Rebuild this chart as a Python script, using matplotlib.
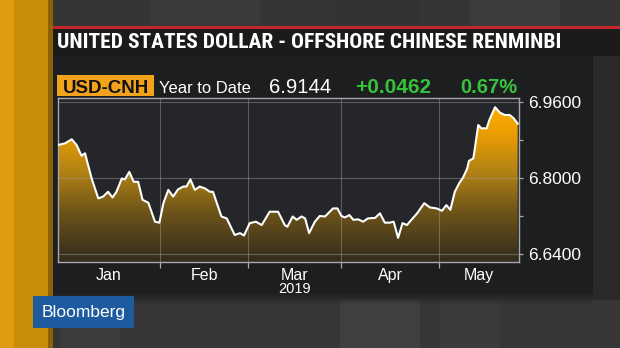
import matplotlib
matplotlib.use("Agg")
import matplotlib.pyplot as plt
import numpy as np
from matplotlib import font_manager as fm
from matplotlib import transforms
from matplotlib.colors import LinearSegmentedColormap
from matplotlib.patches import Rectangle, Polygon

# ---------------- data ----------------
title = "UNITED STATES DOLLAR - OFFSHORE CHINESE RENMINBI"
ticker = "USD-CNH"
period = "Year to Date"
last_value = "6.9144"
net_change = "+0.0462"
pct_change = "0.67%"
brand = "Bloomberg"

months = ["Jan", "Feb", "Mar", "Apr", "May"]
year_label = "2019"
month_start_idx = [0, 23, 43, 64, 86]       # trading-day index of each month start
axis_end_idx = 104.1
y_ticks = [6.64, 6.80, 6.96]
y_minor = [6.72, 6.88]
y_range = [6.6232, 6.9684]

day_idx = [0.0, 1.6, 3.1, 4.2, 5.3, 6.1, 7.6, 9.1, 10.2, 11.3, 12.3, 13.2, 14.4, 15.1,
           16.1, 17.1, 18.1, 19.1, 20.4, 21.9, 22.9, 23.8, 24.9, 26.0, 27.1, 28.3, 29.0,
           29.9, 30.9, 32.0, 33.2, 34.3, 35.0, 36.9, 38.1, 39.9, 41.1, 42.0, 43.3, 44.7,
           46.0, 47.8, 48.6, 49.7, 51.2, 51.8, 53.0, 53.9, 55.0, 55.8, 56.7, 58.0, 59.1,
           60.3, 62.1, 63.1, 64.0, 64.8, 65.8, 66.7, 67.8, 68.9, 70.0, 71.6, 72.7, 73.8,
           74.9, 75.8, 76.8, 77.8, 78.8, 79.8, 81.1, 82.7, 84.0, 85.5, 86.7, 87.7, 88.6,
           89.6, 90.6, 91.5, 92.4, 92.8, 93.8, 94.9, 95.6, 96.8, 97.4, 98.7, 99.8, 100.9,
           102.0, 102.9, 103.8]
usd_cnh = [6.8695, 6.8730, 6.8815, 6.8695, 6.8470, 6.8520, 6.7990, 6.7570, 6.7610, 6.7710,
           6.7590, 6.7710, 6.7990, 6.7970, 6.8130, 6.7920, 6.7920, 6.7540, 6.7480, 6.7080,
           6.7060, 6.7470, 6.7750, 6.7610, 6.7760, 6.7820, 6.7820, 6.7970, 6.7750, 6.7820,
           6.7780, 6.7710, 6.7710, 6.7190, 6.7150, 6.6800, 6.6840, 6.6790, 6.7050, 6.7080,
           6.7010, 6.7290, 6.7290, 6.7290, 6.7010, 6.6975, 6.7190, 6.7120, 6.7190, 6.7150,
           6.6840, 6.7080, 6.7200, 6.7190, 6.7360, 6.7360, 6.7200, 6.7170, 6.7220, 6.7120,
           6.7130, 6.7080, 6.7150, 6.7160, 6.7257, 6.7060, 6.7060, 6.7080, 6.6740, 6.7050,
           6.7010, 6.7120, 6.7257, 6.7470, 6.7380, 6.7360, 6.7310, 6.7430, 6.7330, 6.7710,
           6.7890, 6.8015, 6.8200, 6.8360, 6.8415, 6.9116, 6.9046, 6.9046, 6.9220, 6.9490,
           6.9375, 6.9326, 6.9326, 6.9257, 6.9144]

# ---------------- fonts ----------------
names = {f.name for f in fm.fontManager.ttflist}
def pick(*cands):
    for n in cands:
        if n in names:
            return n
    return "DejaVu Sans"
NARROW = pick("Liberation Sans Narrow", "Roboto Condensed", "Liberation Sans")
SANS = pick("Liberation Sans", "Roboto", "DejaVu Sans")

W, H = 620, 348
fig = plt.figure(figsize=(W / 100, H / 100), dpi=100)
fig.patch.set_facecolor("#2e2e2e")

# background layer in pixel coordinates
bg = fig.add_axes([0, 0, 1, 1])
bg.set_xlim(0, W)
bg.set_ylim(H, 0)
bg.axis("off")

def rect(x0, y0, x1, y1, c, z=0, **kw):
    bg.add_patch(Rectangle((x0, y0), x1 - x0, y1 - y0, facecolor=c, edgecolor="none", zorder=z, **kw))

# studio blur
rect(0, 0, W, 27, "#353535")
for x0, x1, c in [(150, 260, "#3a3a3a"), (330, 420, "#333333"), (470, 560, "#3c3c3c")]:
    rect(x0, 0, x1, 27, c, z=0.1)
rect(52, 290, W, H, "#363636")
for x0, x1, c in [(60, 120, "#3c3c3c"), (340, 420, "#404040"), (440, 500, "#3a3a3a")]:
    rect(x0, 300, x1, H, c, z=0.1)
rect(593, 56, W, 300, "#2a2a2a", z=0.2)
# main dark panel with faded bottom
rect(52, 56, 593, 292, "#1d1e20", z=0.3)
for i in range(12):
    rect(52, 292 + i, 593, 293 + i, "#1d1e20", z=0.3, alpha=1 - i / 12)
# gold band on the left
rect(0, 0, 14, H, "#dc9c0e", z=1)
rect(14, 0, 48, H, "#c98c08", z=1)
rect(48, 0, 53, H, "#8c6206", z=1)
# red line and title bar
rect(50, 28, W, 56, "#1b1b1b", z=0.4)
rect(50, 25.5, W, 28.5, "#c3272b", z=0.5)

t = bg.text(57, 48.5, title, color="white", fontsize=14.6, fontweight="bold",
            family=NARROW, va="baseline", ha="left", zorder=2)
# fit title width to reference (500 px)
fig.canvas.draw()
r = fig.canvas.get_renderer()
wpx = t.get_window_extent(r).width
t.set_fontsize(14.6 * 500 / wpx)

# header row
rect(57, 75, 154, 96, "#f2a21b", z=1)
bg.text(105.5, 93, ticker, color="#111111", fontsize=13.5, fontweight="bold",
        family=SANS, ha="center", va="baseline", zorder=2)
bg.text(159, 93, period, color="white", fontsize=11.9, family=SANS,
        ha="left", va="baseline", zorder=2)
bg.text(300.5, 93, last_value, color="white", fontsize=14.6, family=SANS,
        ha="center", va="baseline", zorder=2)
green = "#37c23b"
bg.text(393.5, 93, net_change, color=green, fontsize=15, fontweight="bold", family=SANS,
        ha="center", va="baseline", zorder=2)
bg.text(488.5, 93, pct_change, color=green, fontsize=14.5, fontweight="bold", family=SANS,
        ha="center", va="baseline", zorder=2)

# Bloomberg box
rect(33, 296, 134, 328, "#1d5b9e", z=1)
bg.text(83.5, 312.5, brand, color="white", fontsize=12.5, family=SANS,
        ha="center", va="center", zorder=2)

# ---------------- chart ----------------
ax = fig.add_axes([58 / W, (H - 262) / H, (519 - 58) / W, (262 - 98) / H])
ax.set_facecolor("#25262a")
x0, x1 = month_start_idx[0], axis_end_idx
ymin, ymax = y_range

cmap = LinearSegmentedColormap.from_list("gold", [
    (0.0, "#332b1d"), (0.3, "#6c5318"), (0.55, "#b28214"), (0.8, "#ee9f02"), (1.0, "#ffb200")])
verts = list(zip(day_idx, usd_cnh)) + [(day_idx[-1], ymin), (day_idx[0], ymin)]
poly = Polygon(verts, closed=True, facecolor="none", edgecolor="none")
ax.add_patch(poly)
grad = np.linspace(0, 1, 256).reshape(-1, 1)
im = ax.imshow(grad, extent=[x0, x1, ymin, ymax], origin="lower", cmap=cmap,
               aspect="auto", zorder=1, interpolation="bilinear")
im.set_clip_path(poly)

for b in month_start_idx[1:]:
    ax.axvline(b, color="#a0a0a0", lw=0.8, alpha=0.45, zorder=2)
for yv in y_ticks:
    ax.axhline(yv, color="#a0a0a0", lw=0.8, alpha=0.45, zorder=2)

ax.plot(day_idx, usd_cnh, color="white", lw=1.5, zorder=3, solid_joinstyle="round")

ax.set_xlim(x0, x1)
ax.set_ylim(ymin, ymax)

for s in ax.spines.values():
    s.set_color("#a8a8a8")
    s.set_linewidth(1.0)

ax.yaxis.tick_right()
ax.set_yticks(y_ticks)
ax.set_yticklabels([f"{v:.4f}" for v in y_ticks])
ax.set_yticks(y_minor, minor=True)
ax.tick_params(axis="y", which="both", direction="out", length=3, width=0.9,
               color="#a8a8a8", labelcolor="white", labelsize=12.5, pad=3.5)
for lab in ax.get_yticklabels():
    lab.set_family(SANS)

ax.set_xticks(month_start_idx[1:])
ax.set_xticklabels([])
centers = [(a + b) / 2 for a, b in zip(month_start_idx, month_start_idx[1:] + [axis_end_idx])]
ax.set_xticks(centers, minor=True)
ax.set_xticklabels(months, minor=True, family=SANS)
ax.tick_params(axis="x", which="major", direction="out", length=4, width=0.9, color="#a8a8a8")
ax.tick_params(axis="x", which="minor", length=0, labelcolor="white", labelsize=11.5, pad=4)

tr = transforms.blended_transform_factory(ax.transData, ax.transAxes)
ax.text(centers[2], -0.165, year_label, transform=tr, color="white", fontsize=10.5,
        family=SANS, ha="center", va="center")

fig.savefig("out.png", dpi=100, facecolor=fig.get_facecolor())
